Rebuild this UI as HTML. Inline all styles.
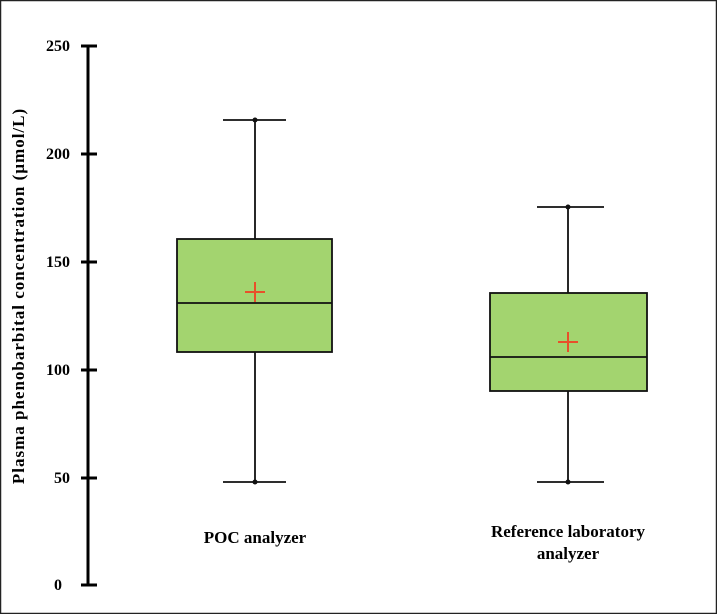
<!DOCTYPE html>
<html><head><style>
html,body{margin:0;padding:0;background:#fff;}
svg{display:block;font-family:"Liberation Serif",serif;font-weight:bold;}
</style></head><body>
<svg width="717" height="614" viewBox="0 0 717 614" xmlns="http://www.w3.org/2000/svg">
<rect x="0.5" y="0.5" width="716" height="613" fill="#fff" stroke="#222" stroke-width="1.5"/>
<g stroke="#000" stroke-width="3">
<line x1="88" y1="45" x2="88" y2="586"/>
<line x1="81" y1="46" x2="97" y2="46"/>
<line x1="81" y1="154" x2="97" y2="154"/>
<line x1="81" y1="262" x2="97" y2="262"/>
<line x1="81" y1="370" x2="97" y2="370"/>
<line x1="81" y1="478" x2="97" y2="478"/>
<line x1="81" y1="585" x2="97" y2="585"/>
</g>
<g font-size="16" text-anchor="end">
<text x="70" y="51">250</text>
<text x="70" y="159">200</text>
<text x="70" y="267">150</text>
<text x="70" y="375">100</text>
<text x="70" y="483">50</text>
<text x="62" y="590">0</text>
</g>
<text transform="translate(24,296) rotate(-90)" text-anchor="middle" font-size="17" letter-spacing="1">Plasma phenobarbital concentration (µmol/L)</text>
<g stroke="#111" stroke-width="1.8">
<line x1="255" y1="120" x2="255" y2="239"/>
<line x1="255" y1="352" x2="255" y2="481"/>
<line x1="223" y1="120" x2="286" y2="120"/>
<line x1="223" y1="482" x2="286" y2="482"/>
<rect x="177" y="239" width="155" height="113" fill="#a3d46f"/>
<line x1="177" y1="303" x2="332" y2="303"/>
<line x1="568" y1="207" x2="568" y2="293"/>
<line x1="568" y1="391" x2="568" y2="481"/>
<line x1="537" y1="207" x2="604" y2="207"/>
<line x1="537" y1="482" x2="604" y2="482"/>
<rect x="490" y="293" width="157" height="98" fill="#a3d46f"/>
<line x1="490" y1="357" x2="647" y2="357"/>
</g>
<g fill="#111"><circle cx="255" cy="120" r="2.5"/><circle cx="255" cy="482" r="2.5"/><circle cx="568" cy="207" r="2.5"/><circle cx="568" cy="482" r="2.5"/></g>
<g stroke="#e8502a" stroke-width="2">
<line x1="245" y1="292" x2="265" y2="292"/><line x1="255" y1="282" x2="255" y2="302"/>
<line x1="558" y1="342" x2="578" y2="342"/><line x1="568" y1="332" x2="568" y2="352"/>
</g>
<g font-size="17" text-anchor="middle">
<text x="255" y="543">POC analyzer</text>
<text x="568" y="537">Reference laboratory</text>
<text x="568" y="559">analyzer</text>
</g>
</svg>
</body></html>
